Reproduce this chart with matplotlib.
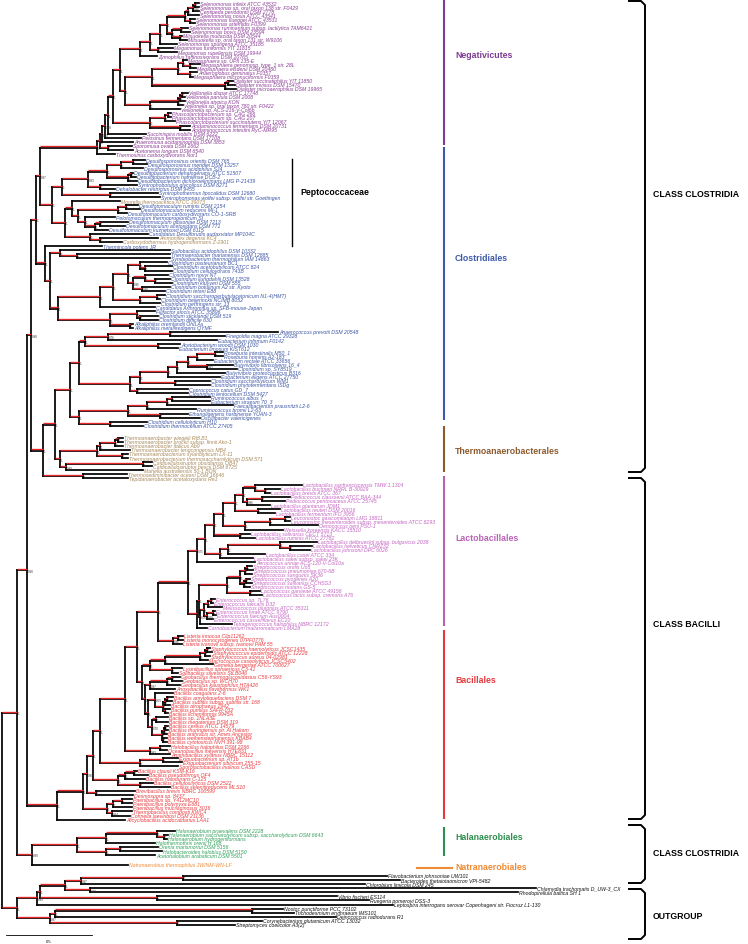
import matplotlib.pyplot as plt
from matplotlib.collections import LineCollection

plt.rcParams['font.family'] = ['Liberation Sans', 'DejaVu Sans']

# Tree in Newick-like form: 'leaf':depth, (children)support:depth
# depth = distance from the root in substitutions/site
SD = "(((('Selenomonas infelix ATCC 43532':1.145,'Selenomonas sp. oral taxon 138 str. F0429':1.145)1:1.122,'Centipeda periodontii DSM 2778':1.145)0.96:1.110,'Selenomonas noxia ATCC 43541':1.145)1:1.081,('Selenomonas flueggei ATCC 43531':1.122,'Selenomonas artemidis F0399':1.122)1:1.093)1:1.064"
MITS = "(('Selenomonas ruminantium subsp. lactilytica TAM6421':1.081,'Selenomonas bovis DSM 23594':1.093)1:1.041,('Mitsuokella multacida DSM 20544':1.047,'Mitsuokella sp. oral taxon 131 str. W9106':1.076)1:1.035)1:0.988"
SELC = f"({SD},{MITS})1:0.959"
SELB = f"({SELC},'Selenomonas sputigena ATCC 35185':1.017)1:0.919"
MEGAM = "('Megamonas funiformis YIT 11815':0.994,'Megamonas rupellensis DSM 19944':1.017)1:0.907"
SELA = f"({SELB},{MEGAM})1:0.860"
SELEN = f"({SELA},'Zymophilus raffinosivorans DSM 20765':0.901)1:0.802"
MEGASPH = "(('Megasphaera sp. UPII 135-E':1.076,('Megasphaera genomosp. type_1 str. 28L':1.151,'Megasphaera elsdenii DSM 20460':1.128)1:1.093)1:1.052,('Anaeroglobus geminatus F0357':1.134,'Megasphaera micronuciformis F0359':1.110)1:1.093)1:1.023"
DIAL = "(('Dialister succinatiphilus YIT 11850':1.343,'Dialister invisus DSM 15470':1.355)1:1.314,'Dialister microaerophilus DSM 19965':1.360)1:1.297"
MD = f"({MEGASPH},{DIAL})1:0.872"
VE = "(((('Veillonella dispar ATCC 17748':1.081,'Veillonella parvula DSM 2008':1.064)1:1.047,'Veillonella atypica KON':1.064)1:1.035,'Veillonella sp. oral taxon 780 str. F0422':1.052)1:1.023,'Veillonella sp. ACS-216-V-Col6b':1.035)1:0.860"
VEILL = f"({MD},{VE})1:0.715"
N6 = f"({SELEN},{VEILL})1:0.686"
ACID = "((('Phascolarctobacterium sp. CAG 266':0.983,'Phascolarctobacterium sp. CAG 207':0.983)1:0.965,'Phascolarctobacterium succinatutens YIT 12067':1.006)1:0.948,('Acidaminococcus fermentans DSM 20731':1.093,'Acidaminococcus intestini RyC-MR95':1.093)1:1.035)1:0.860"
N5 = f"({N6},{ACID})1:0.645"
N4 = f"({N5},'Succinispira mobilis DSM 6222':0.837)1:0.616"
N3 = f"({N4},'Pelosinus fermentans DSM 17108':0.808)0.98:0.599"
N2 = f"({N3},'Anaeromusa acidaminophila DSM 3853':0.762)0.99:0.581"
N1 = f"({N2},('Sporomusa ovata DSM 2662':0.756,'Acetonema longum DSM 6540':0.762)1:0.616)1:0.570"
NEG = f"({N1},'Thermosinus carboxydivorans Nor1':0.657)1:0.552"

DSP = "((('Desulfosporosinus orientis DSM 765':0.831,'Desulfosporosinus meridiei DSM 13257':0.843)1:0.762,'Desulfosporosinus acidiphilus SJ4':0.820)1:0.692,(('Desulfitobacterium dehalogenans ATCC 51507':0.762,'Desulfitobacterium hafniense DCB-2':0.779)1:0.750,'Desulfitobacterium dichloroeliminans LMG P-21439':0.785)1:0.733)1:0.610"
PEPC = f"({DSP},('Syntrophobotulus glycolicus DSM 8271':0.785,'Dehalobacter restrictus DSM 9455':0.657)1:0.570)0.93:0.500"
SYNT = "('Syntrophothermus lipocalidus DSM 12680':0.907,'Syntrophomonas wolfei subsp. wolfei str. Goettingen':0.919)1:0.628"
P1 = f"({PEPC},{SYNT})1:0.349"
DR = "(('Desulfotomaculum ruminis DSM 2154':0.791,'Desulfotomaculum reducens MI-1':0.802)1:0.721,'Desulfotomaculum carboxydivorans CO-1-SRB':0.727)1:0.674"
PD3 = "('Pelotomaculum thermopropionicum SI':0.657,(('Desulfotomaculum gibsoniae DSM 7213':0.733,'Desulfotomaculum acetoxidans DSM 771':0.715)1:0.570,'Desulfotomaculum kuznetsovii DSM 6115':0.616)1:0.541)1:0.483"
PD2 = f"({DR},{PD3})1:0.442"
PD1 = f"('Moorella thermoacetica ATCC 39073':0.686,{PD2})1:0.407"
PCARB = "('Candidatus Desulforudis audaxviator MP104C':0.849,('Ammonifex degensii KC4':0.907,'Carboxydothermus hydrogenoformans Z-2901':0.698)1:0.570)1:0.512"
PDES = f"({PD1},{PCARB})1:0.366"
PEPTO = f"({P1},{PDES})1:0.291"
X = f"({NEG},{PEPTO})0.97:0.221"

SYM = "('Sulfobacillus acidophilus DSM 10332':0.977,('Thermaerobacter marianensis DSM 12885':0.977,'Symbiobacterium thermophilum IAM 14863':0.977)1:0.436)1:0.337"
CA2 = "(('Clostridium pasteurianum BC1':0.959,('Clostridium acetobutylicum ATCC 824':0.988,'Clostridium cellulovorans 743B':0.988)1:0.831)1:0.802,(('Clostridium novyi NT':0.965,('Clostridium ljungdahlii DSM 13528':0.977,'Clostridium kluyveri DSM 555':0.988)1:0.890)1:0.831,('Clostridium botulinum A2 str. Kyoto':0.977,'Clostridium tetani E88':0.948)0.98:0.814)0.96:0.762)1:0.733"
CPERF = "(('Clostridium saccharoperbutylacetonicum N1-4(HMT)':0.948,'Clostridium beijerinckii NCIMB 8052':0.919)1:0.901,'Clostridium perfringens str. 13':0.919)1:0.802"
CA1 = f"({CA2},{CPERF})1:0.645"
CA = f"({CA1},'Candidatus Arthromitus sp. SFB-mouse-Japan':0.890)1:0.570"
CB = "(('Filifactor alocis ATCC 35896':0.890,('Clostridium sticklandii DSM 519':0.907,'Clostridium difficile 630':0.907)1:0.802)1:0.785,('Alkaliphilus oremlandii OhILAs':0.762,'Alkaliphilus metalliredigens QYMF':0.762)1:0.744)1:0.628"
CLOS = f"({CA},{CB})1:0.326"
Y2 = f"({SYM},{CLOS})1:0.279"
Y = f"('Thermincola potens JR':0.581,{Y2})1:0.250"
CMAIN = f"({X},{Y})1:0.198"

PEPTONI = "(('Anaerococcus prevotii DSM 20548':1.605,'Finegoldia magna ATCC 29328':1.297)1:0.977,'Eubacterium infirmum F0142':1.250)0.76:0.616"
CC1 = f"({PEPTONI},('Acetobacterium woodii DSM 1030':1.035,'Eubacterium limosum KIST612':1.023)1:0.907)1:0.483"
L4 = "((('Roseburia intestinalis M50_1':1.285,'Roseburia hominis A2-183':1.285)1:1.238,'Eubacterium rectale ATCC 33656':1.227)1:1.134,('Butyrivibrio fibrisolvens 16_4':1.343,'Clostridium sp. SY8519':1.366)0.82:1.192)1:1.081"
L3 = f"({L4},'Butyrivibrio proteoclasticus B316':1.297)1:1.017"
L2 = f"({L3},'Eubacterium eligens ATCC 27750':1.267)1:0.965"
L1 = f"({L2},('Clostridium saccharolyticum WM1':1.209,'Clostridium phytofermentans ISDg':1.209)1:1.006)1:0.802"
LACH = f"({L1},('Coprococcus catus GD_7':1.081,'Clostridium lentocellum DSM 5427':1.081)1:0.785)1:0.744"
CLC = f"({CC1},{LACH})1:0.448"
R1 = "(((('Ruminococcus albus 7':1.209,'Eubacterium siraeum 70_3':1.209)1:0.988,'Faecalibacterium prausnitzii L2-6':1.343)1:0.959,'Ruminococcus bromii L2-63':1.128)1:0.843,('Ethanoligenens harbinense YUAN-3':1.081,'Oscillibacter valericigenes':1.151)1:0.919)1:0.733"
CT = "('Clostridium cellulolyticum H10':0.843,'Clostridium thermocellum ATCC 27405':0.820)1:0.628"
RUM = f"({R1},{CT})1:0.448"
CLB = f"({CLC},{RUM})1:0.395"
TH1 = "(((('Thermoanaerobacter wiegelii Rt8.B1':0.703,'Thermoanaerobacter brockii subsp. finnii Ako-1':0.703)1:0.674,'Thermoanaerobacter italicus Ab9':0.703)1:0.657,'Thermoanaerobacter tengcongensis MB4':0.744)1:0.570,('Thermoanaerobacterium xylanolyticum LX-11':0.733,'Thermoanaerobacterium thermosaccharolyticum DSM 571':0.733)1:0.698)1:0.552"
TH2 = "(('Caldicellulosiruptor obsidiansis OB47':0.872,'Caldicellulosiruptor bescii DSM 6725':0.872)1:0.820,'Mahella australiensis 50-1 BON':0.820)0.99:0.372"
THA = f"({TH1},{TH2})1:0.337"
CLA = f"({CLB},{THA})1:0.308"
TT = "('Thermosediminibacter oceani DSM 16646':0.727,'Tepidanaerobacter acetatoxydans Re1':0.733)1:0.471"
THCL = f"({CLA},{TT})1:0.238"
NA = f"({CMAIN},{THCL})0.98:0.169"

LB5 = "(('Lactobacillus sanfranciscensis TMW 1.1304':1.744,('Lactobacillus buchneri NRRL B-30929':1.616,'Lactobacillus brevis ATCC 367':1.558)1:1.529)1:1.471,(('Pediococcus claussenii ATCC BAA-344':1.674,'Pediococcus pentosaceus ATCC 25745':1.645)1:1.512,'Lactobacillus plantarum JDM1':1.558)0.96:1.424)1:1.401"
LB4 = f"({LB5},('Lactobacillus reuteri DSM 20016':1.616,'Lactobacillus fermentum IFO 3956':1.587)1:1.488)1:1.355"
LEUC = "((('Leuconostoc gasicomitatum LMG 18811':1.674,'Leuconostoc mesenteroides subsp. mesenteroides ATCC 8293':1.674)1:1.645,'Oenococcus oeni PSU-1':1.837)1:1.558,'Weissella koreensis KACC 15510':1.634)1:1.413"
LB3 = f"({LB4},{LEUC})1:1.285"
LB2 = f"({LB3},('Lactobacillus salivarius CECT 5713':1.442,'Lactobacillus ruminis ATCC 27782':1.471)1:1.384)1:1.233"
LSAK = "((('Lactobacillus delbrueckii subsp. bulgaricus 2038':1.831,('Lactobacillus helveticus CNRZ32':1.802,'Lactobacillus johnsonii DPC 6026':1.791)1:1.674)1:1.616,'Lactobacillus casei ATCC 334':1.529)1:1.314,'Lactobacillus sakei subsp. sakei 23K':1.459)1:1.267"
LB1 = f"({LB2},{LSAK})1:1.180"
LB = f"({LB1},'Aerococcus urinae ACS-120-V-Col10a':1.471)0.75:1.134"
STR = "((('Streptococcus oralis Uo5':1.453,'Streptococcus pneumoniae 670-6B':1.459)1:1.424,'Streptococcus sanguinis SK36':1.453)1:1.413,(('Streptococcus pyogenes A20':1.442,'Streptococcus salivarius CCHSS3':1.453)1:1.419,'Streptococcus mutans GS-5':1.442)1:1.407)1:1.384"
LCC = "('Lactococcus garvieae ATCC 49156':1.500,'Lactococcus lactis subsp. cremoris A76':1.512)1:1.442"
STLC = f"({STR},{LCC})1:1.308"
ENT = "(((('Enterococcus sp. 7L76':1.238,'Enterococcus faecalis D32':1.227)1:1.215,'Melissococcus plutonius ATCC 35311':1.279)1:1.198,(('Enterococcus hirae ATCC 9790':1.238,'Enterococcus faecium Aus0004':1.244)1:1.227,'Enterococcus casseliflavus EC20':1.227)0.99:1.192)1:1.174,'Tetragenococcus halophilus NBRC 12172':1.337)0.76:1.151"
SE1 = f"({STLC},{ENT})1:1.146"
SEN = f"({SE1},'Carnobacterium maltaromaticum LMA28':1.192)1:1.134"
LACTO = f"({LB},{SEN})1:1.081"
LIS = "(('Listeria innocua Clip11262':1.052,'Listeria monocytogenes 07PF0776':1.052)1:1.023,'Listeria ivanovii subsp. ivanovii PAM 55':1.047)0.96:0.994"
LAB = f"({LACTO},{LIS})1:0.907"
STG = "((((('Staphylococcus haemolyticus JCSC1435':1.209,'Staphylococcus epidermidis ATCC 12228':1.221)1:1.192,'Staphylococcus aureus 04-02981':1.209)1:1.180,'Macrococcus caseolyticus JCSC5402':1.198)1:1.151,'Gemella bergeriae ATCC 700627':1.227)1:0.948,('Lysinibacillus sphaericus C3-41':1.047,'Solibacillus silvestris StLB046':1.023)1:0.988)1:0.860"
GEO = "((('Geobacillus thermoglucosidasius C56-YS93':1.035,'Geobacillus sp. WCH70':1.047)1:0.988,'Geobacillus kaustophilus HTA426':1.035)1:0.959,'Anoxybacillus flavithermus WK1':1.006)0.97:0.860"
BS1 = "('Bacillus coagulans 2-6':0.994,((('Bacillus amyloliquefaciens DSM 7':0.994,'Bacillus subtilis subsp. subtilis str. 168':0.988)1:0.959,'Bacillus atrophaeus 1942':0.977)1:0.948,('Bacillus pumilus SAFR-032':0.977,'Bacillus licheniformis 9945A':0.965)1:0.948)1:0.936)0.55:0.890"
BC = "(('Bacillus sp. 1NLA3E':0.965,'Bacillus megaterium DSM 319':0.965)1:0.895,((('Bacillus cereus ATCC 14579':0.965,'Bacillus thuringiensis str. Al Hakam':0.965)1:0.948,'Bacillus anthracis str. Ames Ancestor':0.959)1:0.942,('Bacillus weihenstephanensis KBAB4':0.959,'Bacillus cytotoxicus NVH 391-98':0.959)1:0.936)1:0.930)0.70:0.872"
BSUB = f"({BS1},{BC})1:0.849"
BACG = f"({GEO},{BSUB})1:0.831"
SOLG = f"({STG},{BACG})1:0.814"
BT = f"({LAB},{SOLG})1:0.785"
HOA = "(('Halobacillus halophilus DSM 2266':0.977,'Oceanobacillus iheyensis HTE831':0.959)1:0.919,'Amphibacillus xylanus NBRC 15112':0.977)0.83:0.860"
B5 = f"({BT},{HOA})1:0.715"
EXIG = "(('Exiguobacterium sp. AT1b':1.023,'Exiguobacterium sibiricum 255-15':1.047)1:0.936,'Sporolactobacillus inulinus CASD':1.023)1:0.802"
B4 = f"({B5},{EXIG})1:0.570"
ALK = "((('Bacillus clausii KSM-K16':0.785,'Bacillus pseudofirmus OF4':0.849)1:0.767,'Bacillus halodurans C-125':0.831)1:0.715,('Bacillus cellulosilyticus DSM 2522':0.878,'Bacillus selenitireducens MLS10':0.977)1:0.802)1:0.674"
B3 = f"({B4},{ALK})1:0.529"
BREV = "('Brevibacillus brevis NBRC 100599':0.773,'Desmospora sp. 8437':0.762)1:0.547"
B2 = f"({B3},{BREV})0.99:0.494"
PAEN = "((('Paenibacillus sp. Y412MC10':0.756,'Paenibacillus polymyxa E681':0.756)1:0.698,'Paenibacillus mucilaginosus 3016':0.756)1:0.645,('Thermobacillus composti KWC4':0.756,'Cohnella laeviribosi DSM 21136':0.744)0.94:0.640)1:0.610"
B1 = f"({B2},{PAEN})1:0.471"
BAC = f"({B1},'Alicyclobacillus acidocaldarius LAA1':0.715)1:0.320"
NB = f"({NA},{BAC})0.98:0.145"

H1 = "(('Halanaerobium praevalens DSM 2228':1.006,('Halanaerobium saccharolyticum subsp. saccharolyticum DSM 6643':0.965,'Halanaerobium hydrogeniformans':0.959)1:0.942)1:0.901,'Halothermothrix orenii H 168':0.890)1:0.605"
H2 = "(('Orenia marismortui DSM 5156':0.907,'Halobacteroides halobius DSM 5150':0.930)1:0.686,'Acetohalobium arabaticum DSM 5501':0.890)1:0.605"
HAL = f"({H1},{H2})1:0.436"
HN = f"({HAL},'Natranaerobius thermophilus JW/NM-WN-LF':0.733)0.99:0.174"
ING = f"({NB},{HN})1:0.087"

FCB = "(('Flavobacterium johnsoniae UW101':2.238,'Bacteroides thetaiotaomicron VPI-5482':2.314)1:1.052,'Chlorobium limicola DSM 245':2.110)0.97:0.459"
PVC = "('Chlamydia trachomatis D_UW-3_CX':3.105,'Rhodopirellula baltica SH 1':3.000)0.82:0.512"
O4 = f"({FCB},{PVC})1:0.366"
PROT = "('Vibrio fischeri ES114':1.948,'Ruegeria pomeroyi DSS-3':2.134)1:0.901"
O3 = f"({O4},{PROT})1:0.221"
O1 = f"({O3},'Leptospira interrogans serovar Copenhageni str. Fiocruz L1-130':2.273)0.99:0.203"
O2A = "(('Nostoc punctiforme PCC 73102':1.634,'Trichodesmium erythraeum IMS101':1.698)1:1.453,'Deinococcus radiodurans R1':1.942)1:0.308"
ACT = "('Corynebacterium glutamicum ATCC 13032':1.512,'Streptomyces coelicolor A3(2)':1.355)1:1.017"
O2 = f"({O2A},{ACT})0.97:0.279"
OUT = f"({O1},{O2})1:0.087"
TREE = f"({ING},{OUT}):0"

# leaf colour groups, in leaf order
group_runs = [('Negativicutes', 38), ('Clostridiales', 10), ('Thermoanaerobacterales', 1),
              ('Clostridiales', 8), ('Thermoanaerobacterales', 2), ('Clostridiales', 45),
              ('Thermoanaerobacterales', 11), ('Lactobacillales', 36), ('Bacillales', 46),
              ('Halanaerobiales', 7), ('Natranaerobiales', 1), ('Outgroup', 13)]
leaf_colors = {'Negativicutes': '#8A3C95', 'Clostridiales': '#3C55A5',
               'Thermoanaerobacterales': '#A8885A', 'Lactobacillales': '#C464C2',
               'Bacillales': '#E8383D', 'Halanaerobiales': '#2FA058',
               'Natranaerobiales': '#F08A35', 'Outgroup': '#111111'}
# extra blank rows after some leaves
row_gaps = {'Thermosinus carboxydivorans Nor1': 0.5, 'Clostridium thermocellum ATCC 27405': 1.9,
            'Tepidanaerobacter acetatoxydans Re1': 0.5, 'Carnobacterium maltaromaticum LMA28': 1.0,
            'Alicyclobacillus acidocaldarius LAA1': 1.7, 'Acetohalobium arabaticum DSM 5501': 1.4,
            'Natranaerobius thermophilus JW/NM-WN-LF': 1.7}

clades = [('Negativicutes', 0, 146, '#7E3C93', 55), ('Clostridiales', 148, 421, '#3D5AA8', 259),
          ('Thermoanaerobacterales', 427, 473, '#8C5A2E', 452), ('Lactobacillales', 477, 627, '#B862B5', 539),
          ('Bacillales', 631, 820, '#E5393B', 681), ('Halanaerobiales', 828, 857, '#2E8E4E', 838)]
classes = [('CLASS CLOSTRIDIA', 2, 473, 195), ('CLASS BACILLI', 479, 820, 625),
           ('CLASS CLOSTRIDIA', 826, 884, 854), ('OUTGROUP', 890, 940, 917)]


def parse(s):
    pos = 0

    def node():
        nonlocal pos
        if s[pos] == '(':
            pos += 1
            kids = [node()]
            while s[pos] == ',':
                pos += 1
                kids.append(node())
            pos += 1
            j = pos
            while s[pos] != ':':
                pos += 1
            sup, name = s[j:pos], None
        else:
            j = s.index("'", pos + 1)
            name = s[pos + 1:j]
            pos = j + 1
            kids, sup = [], ''
        pos += 1
        j = pos
        while pos < len(s) and s[pos] not in ',)':
            pos += 1
        return {'name': name, 'kids': kids, 'sup': sup, 'd': float(s[j:pos])}
    return node()


root = parse(TREE)
leaves = []


def collect(n):
    if n['name'] is not None:
        leaves.append(n)
    for k in n['kids']:
        collect(k)


collect(root)
groups = [g for g, k in group_runs for _ in range(k)]
r = 0.0
for lf, g in zip(leaves, groups):
    lf['y'] = r
    lf['g'] = g
    r += 1 + row_gaps.get(lf['name'], 0)


def set_y(n):
    if n['kids']:
        for k in n['kids']:
            set_y(k)
        n['y'] = (n['kids'][0]['y'] + n['kids'][-1]['y']) / 2


set_y(root)

# scale: 0.5 subs/site = 86 px, one leaf row = 4.085 px
PXU, ROW = 172.0, 4.085
W, H = 748, 945
def px_x(p): return (p - 2) / PXU
def px_y(p): return (p - 4) / ROW


fig = plt.figure(figsize=(W / 100, H / 100), dpi=100)
ax = fig.add_axes([0, 0, 1, 1])
ax.set_xlim(px_x(0), px_x(W))
ax.set_ylim(px_y(H), px_y(0))
ax.axis('off')

black, red, vert = [], [], []


def walk(n, pd):
    if pd is not None:
        black.append([(pd, n['y']), (n['d'], n['y'])])
        if n['kids']:
            red.append([(pd, n['y'] - 0.3), (n['d'], n['y'] - 0.3)])
    if n['kids']:
        vert.append([(n['d'], n['kids'][0]['y']), (n['d'], n['kids'][-1]['y'])])
        for k in n['kids']:
            walk(k, n['d'])
        if n['sup'] and pd is not None:
            ax.text(n['d'] + 0.006, n['y'] + 0.1, n['sup'], fontsize=2.2, color='#333333',
                    ha='left', va='center')
    else:
        ax.text(n['d'] + 0.008, n['y'], n['name'], fontsize=3.7, style='italic',
                color=leaf_colors[n['g']], ha='left', va='center')


walk(root, None)
ax.add_collection(LineCollection(black + vert, colors='black', linewidths=1.25, capstyle='projecting'))
ax.add_collection(LineCollection(red, colors='#E8272B', linewidths=0.95, capstyle='butt'))

# scale bar
ax.plot([px_x(6), px_x(6) + 0.5], [px_y(936)] * 2, color='black', lw=0.6)
ax.text(px_x(6) + 0.25, px_y(942), '0.5', fontsize=3, ha='center', va='center')

# clade bars
for name, y0, y1, col, ty in clades:
    ax.plot([px_x(444)] * 2, [px_y(y0), px_y(y1)], color=col, lw=1.5, solid_capstyle='butt')
    ax.text(px_x(455), px_y(ty), name, color=col, fontsize=6.3, fontweight='bold', va='center')
ax.plot([px_x(417), px_x(452)], [px_y(869)] * 2, color='#F08A35', lw=1.5)
ax.text(px_x(455), px_y(868), 'Natranaerobiales', color='#F08A35', fontsize=6.3,
        fontweight='bold', va='center')
ax.plot([px_x(292)] * 2, [px_y(160), px_y(247)], color='black', lw=1.0)
ax.text(px_x(300), px_y(193), 'Peptococcaceae', color='black', fontsize=6.3,
        fontweight='bold', va='center')

# class brackets
for name, y0, y1, ty in classes:
    xs = [px_x(629), px_x(641), px_x(645), px_x(645), px_x(641), px_x(629)]
    ys = [px_y(y0), px_y(y0), px_y(y0 + 4), px_y(y1 - 4), px_y(y1), px_y(y1)]
    ax.plot(xs, ys, color='black', lw=1.4, solid_joinstyle='round')
    ax.text(px_x(653), px_y(ty), name, color='black', fontsize=6.3, fontweight='bold', va='center')

fig.savefig('out.png', dpi=100)
